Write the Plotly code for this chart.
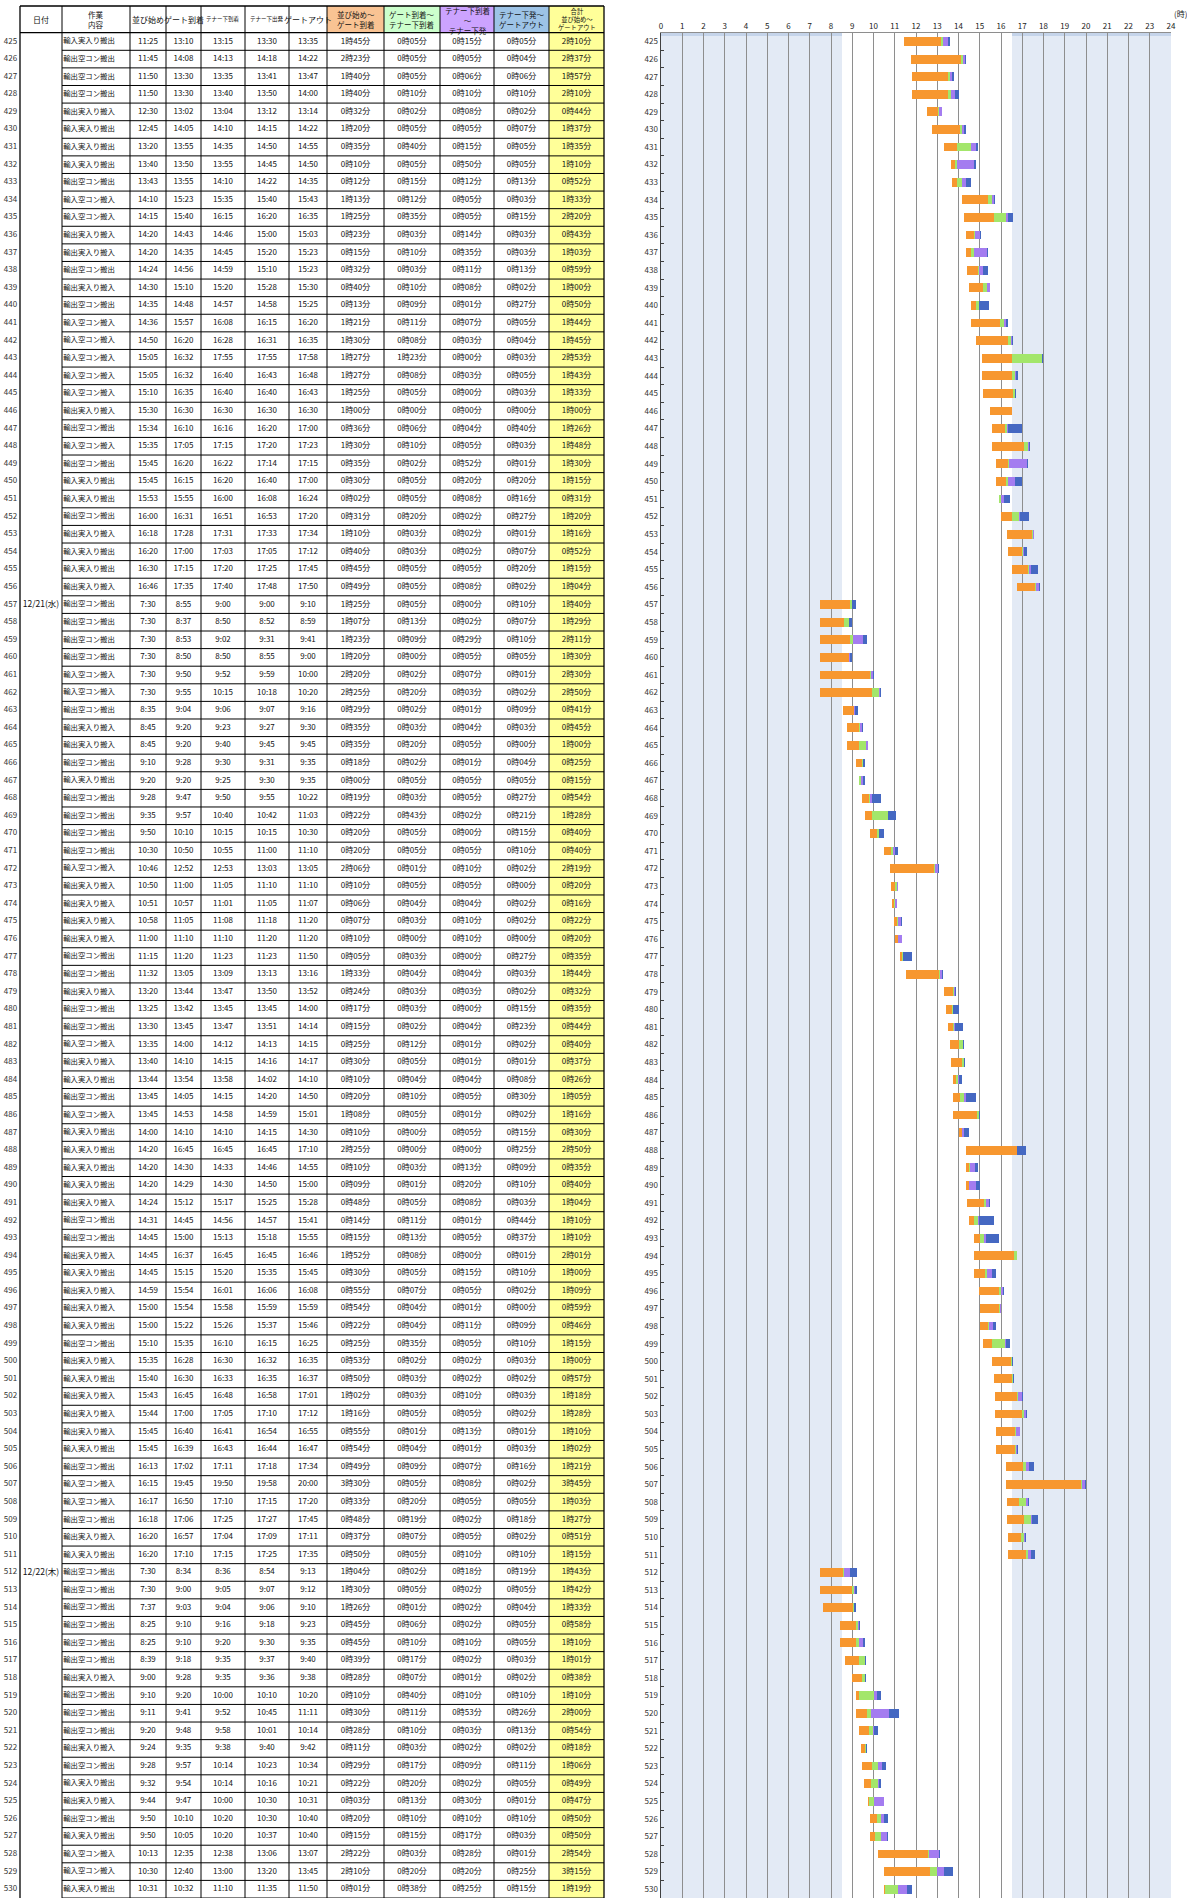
import plotly.graph_objects as go

FONT = "Noto Sans CJK JP"
W, H = 1187, 1898

# ---------------- data ----------------
ids = list(range(425, 531))
date_labels = {457: "12/21(水)", 512: "12/22(木)"}

work = [
    "輸入実入り搬出", "輸出空コン搬出", "輸出空コン搬出", "輸出空コン搬出", "輸出実入り搬入",
    "輸入実入り搬出", "輸入実入り搬出", "輸入実入り搬出", "輸出空コン搬出", "輸入空コン搬入",
    "輸入空コン搬入", "輸出実入り搬入", "輸出実入り搬入", "輸出空コン搬出", "輸出実入り搬入",
    "輸出空コン搬出", "輸入空コン搬入", "輸入空コン搬入", "輸入空コン搬入",
    "輸入空コン搬入", "輸入空コン搬入", "輸出実入り搬入", "輸出空コン搬出", "輸入空コン搬入",
    "輸出空コン搬出", "輸入実入り搬出", "輸入実入り搬出", "輸出空コン搬出", "輸出実入り搬入",
    "輸入実入り搬出", "輸入実入り搬出", "輸出実入り搬入", "輸出空コン搬出", "輸出空コン搬出",
    "輸出空コン搬出", "輸出空コン搬出", "輸入空コン搬入", "輸入空コン搬入", "輸出空コン搬出",
    "輸出実入り搬入", "輸出実入り搬入", "輸出空コン搬出", "輸入実入り搬出", "輸出空コン搬出",
    "輸出空コン搬出", "輸出空コン搬出", "輸出空コン搬出", "輸入空コン搬入",
    "輸出実入り搬入", "輸出実入り搬入", "輸出実入り搬入", "輸出実入り搬入", "輸出空コン搬出",
    "輸出空コン搬出", "輸出実入り搬入", "輸出空コン搬出", "輸出空コン搬出", "輸入空コン搬入",
    "輸出実入り搬入", "輸入実入り搬出", "輸出空コン搬出", "輸入空コン搬入", "輸入実入り搬出",
    "輸入実入り搬出", "輸入実入り搬出", "輸入実入り搬出", "輸出実入り搬入", "輸出空コン搬出",
    "輸出空コン搬出", "輸出実入り搬入", "輸入実入り搬出", "輸出実入り搬入", "輸出実入り搬入",
    "輸入実入り搬出", "輸出空コン搬出", "輸出実入り搬入", "輸入実入り搬出",
    "輸出実入り搬入", "輸出実入り搬入", "輸出実入り搬入", "輸入実入り搬出", "輸出空コン搬出",
    "輸入空コン搬入", "輸入空コン搬入", "輸出空コン搬出", "輸出実入り搬入", "輸入実入り搬出",
    "輸出空コン搬出", "輸出空コン搬出", "輸出空コン搬出", "輸出空コン搬出", "輸出空コン搬出",
    "輸出空コン搬出", "輸出実入り搬入", "輸出空コン搬出", "輸出空コン搬出", "輸出空コン搬出",
    "輸出実入り搬入", "輸出空コン搬出", "輸入実入り搬出", "輸出実入り搬入", "輸出空コン搬出",
    "輸入実入り搬出", "輸入空コン搬入", "輸入空コン搬入", "輸入実入り搬出",
]

t_start = [
    "11:25", "11:45", "11:50", "11:50", "12:30", "12:45", "13:20", "13:40", "13:43", "14:10",
    "14:15", "14:20", "14:20", "14:24", "14:30", "14:35", "14:36", "14:50", "15:05",
    "15:05", "15:10", "15:30", "15:34", "15:35", "15:45", "15:45", "15:53", "16:00", "16:18",
    "16:20", "16:30", "16:46", "7:30", "7:30", "7:30", "7:30", "7:30", "7:30", "8:35",
    "8:45", "8:45", "9:10", "9:20", "9:28", "9:35", "9:50", "10:30", "10:46",
    "10:50", "10:51", "10:58", "11:00", "11:15", "11:32", "13:20", "13:25", "13:30", "13:35",
    "13:40", "13:44", "13:45", "13:45", "14:00", "14:20", "14:20", "14:20", "14:24", "14:31",
    "14:45", "14:45", "14:45", "14:59", "15:00", "15:00", "15:10", "15:35", "15:40",
    "15:43", "15:44", "15:45", "15:45", "16:13", "16:15", "16:17", "16:18", "16:20", "16:20",
    "7:30", "7:30", "7:37", "8:25", "8:25", "8:39", "9:00", "9:10", "9:11", "9:20",
    "9:24", "9:28", "9:32", "9:44", "9:50", "9:50", "10:13", "10:30", "10:31",
]
t_gate = [
    "13:10", "14:08", "13:30", "13:30", "13:02", "14:05", "13:55", "13:50", "13:55", "15:23",
    "15:40", "14:43", "14:35", "14:56", "15:10", "14:48", "15:57", "16:20", "16:32",
    "16:32", "16:35", "16:30", "16:10", "17:05", "16:20", "16:15", "15:55", "16:31", "17:28",
    "17:00", "17:15", "17:35", "8:55", "8:37", "8:53", "8:50", "9:50", "9:55", "9:04",
    "9:20", "9:20", "9:28", "9:20", "9:47", "9:57", "10:10", "10:50", "12:52",
    "11:00", "10:57", "11:05", "11:10", "11:20", "13:05", "13:44", "13:42", "13:45", "14:00",
    "14:10", "13:54", "14:05", "14:53", "14:10", "16:45", "14:30", "14:29", "15:12", "14:45",
    "15:00", "16:37", "15:15", "15:54", "15:54", "15:22", "15:35", "16:28", "16:30",
    "16:45", "17:00", "16:40", "16:39", "17:02", "19:45", "16:50", "17:06", "16:57", "17:10",
    "8:34", "9:00", "9:03", "9:10", "9:10", "9:18", "9:28", "9:20", "9:41", "9:48",
    "9:35", "9:57", "9:54", "9:47", "10:10", "10:05", "12:35", "12:40", "10:32",
]
t_under = [
    "13:15", "14:13", "13:35", "13:40", "13:04", "14:10", "14:35", "13:55", "14:10", "15:35",
    "16:15", "14:46", "14:45", "14:59", "15:20", "14:57", "16:08", "16:28", "17:55",
    "16:40", "16:40", "16:30", "16:16", "17:15", "16:22", "16:20", "16:00", "16:51", "17:31",
    "17:03", "17:20", "17:40", "9:00", "8:50", "9:02", "8:50", "9:52", "10:15", "9:06",
    "9:23", "9:40", "9:30", "9:25", "9:50", "10:40", "10:15", "10:55", "12:53",
    "11:05", "11:01", "11:08", "11:10", "11:23", "13:09", "13:47", "13:45", "13:47", "14:12",
    "14:15", "13:58", "14:15", "14:58", "14:10", "16:45", "14:33", "14:30", "15:17", "14:56",
    "15:13", "16:45", "15:20", "16:01", "15:58", "15:26", "16:10", "16:30", "16:33",
    "16:48", "17:05", "16:41", "16:43", "17:11", "19:50", "17:10", "17:25", "17:04", "17:15",
    "8:36", "9:05", "9:04", "9:16", "9:20", "9:35", "9:35", "10:00", "9:52", "9:58",
    "9:38", "10:14", "10:14", "10:00", "10:20", "10:20", "12:38", "13:00", "11:10",
]
t_depart = [
    "13:30", "14:18", "13:41", "13:50", "13:12", "14:15", "14:50", "14:45", "14:22", "15:40",
    "16:20", "15:00", "15:20", "15:10", "15:28", "14:58", "16:15", "16:31", "17:55",
    "16:43", "16:40", "16:30", "16:20", "17:20", "17:14", "16:40", "16:08", "16:53", "17:33",
    "17:05", "17:25", "17:48", "9:00", "8:52", "9:31", "8:55", "9:59", "10:18", "9:07",
    "9:27", "9:45", "9:31", "9:30", "9:55", "10:42", "10:15", "11:00", "13:03",
    "11:10", "11:05", "11:18", "11:20", "11:23", "13:13", "13:50", "13:45", "13:51", "14:13",
    "14:16", "14:02", "14:20", "14:59", "14:15", "16:45", "14:46", "14:50", "15:25", "14:57",
    "15:18", "16:45", "15:35", "16:06", "15:59", "15:37", "16:15", "16:32", "16:35",
    "16:58", "17:10", "16:54", "16:44", "17:18", "19:58", "17:15", "17:27", "17:09", "17:25",
    "8:54", "9:07", "9:06", "9:18", "9:30", "9:37", "9:36", "10:10", "10:45", "10:01",
    "9:40", "10:23", "10:16", "10:30", "10:30", "10:37", "13:06", "13:20", "11:35",
]
t_out = [
    "13:35", "14:22", "13:47", "14:00", "13:14", "14:22", "14:55", "14:50", "14:35", "15:43",
    "16:35", "15:03", "15:23", "15:23", "15:30", "15:25", "16:20", "16:35", "17:58",
    "16:48", "16:43", "16:30", "17:00", "17:23", "17:15", "17:00", "16:24", "17:20", "17:34",
    "17:12", "17:45", "17:50", "9:10", "8:59", "9:41", "9:00", "10:00", "10:20", "9:16",
    "9:30", "9:45", "9:35", "9:35", "10:22", "11:03", "10:30", "11:10", "13:05",
    "11:10", "11:07", "11:20", "11:20", "11:50", "13:16", "13:52", "14:00", "14:14", "14:15",
    "14:17", "14:10", "14:50", "15:01", "14:30", "17:10", "14:55", "15:00", "15:28", "15:41",
    "15:55", "16:46", "15:45", "16:08", "15:59", "15:46", "16:25", "16:35", "16:37",
    "17:01", "17:12", "16:55", "16:47", "17:34", "20:00", "17:20", "17:45", "17:11", "17:35",
    "9:13", "9:12", "9:10", "9:23", "9:35", "9:40", "9:38", "10:20", "11:11", "10:14",
    "9:42", "10:34", "10:21", "10:31", "10:40", "10:40", "13:07", "13:45", "11:50",
]

hour_ticks = list(range(0, 25))
# background bands of the time axis: (from hour, to hour, colour)
band_from = [0, 8.5, 16.5]
band_to = [8.5, 16.5, 24]
band_colors = ["#E3EAF5", "#FFFFFF", "#E3EAF5"]

# ---------------- helpers ----------------
def tmin(s):
    h, m = s.split(":")
    return int(h) * 60 + int(m)

def fmt(d):
    return f"{d // 60}時{d % 60:02d}分"

n = len(ids)
m_start = [tmin(s) for s in t_start]
m_gate = [tmin(s) for s in t_gate]
m_under = [tmin(s) for s in t_under]
m_dep = [tmin(s) for s in t_depart]
m_out = [tmin(s) for s in t_out]
d1 = [b - a for a, b in zip(m_start, m_gate)]
d2 = [b - a for a, b in zip(m_gate, m_under)]
d3 = [b - a for a, b in zip(m_under, m_dep)]
d4 = [b - a for a, b in zip(m_dep, m_out)]
dt = [b - a for a, b in zip(m_start, m_out)]

# ---------------- layout geometry (px) ----------------
col_edges = [20, 62, 130, 166, 201, 245, 289, 327, 384, 440, 494, 549, 604]
head_top, head_bot = 6.0, 32.7
row_h = (H - head_bot) / n
row_cy = [head_bot + (i + 0.5) * row_h for i in range(n)]
chart_x0, chart_x1 = 661, 1171
chart_ytop = 1 - head_bot / H
cx_dom = [chart_x0 / W, chart_x1 / W]
cy_dom = [0, chart_ytop]

def ccx(k):
    return (col_edges[k] + col_edges[k + 1]) / 2

fig = go.Figure()

# ---------------- chart background bands (bottom subplot x/y) ----------------
strip = 3.6 / (H - head_bot)
fig.add_trace(go.Bar(
    x=[b - a for a, b in zip(band_from, band_to)], base=band_from, y=[0.5] * 3,
    width=1, orientation="h", marker=dict(color=band_colors, line=dict(width=0)),
    xaxis="x", yaxis="y", showlegend=False, hoverinfo="skip"))
fig.add_trace(go.Bar(
    x=[b - a for a, b in zip(band_from, band_to)], base=band_from, y=[1 - strip / 2] * 3,
    width=strip, orientation="h",
    marker=dict(color=["#C5D4EA", "#FFFFFF", "#C5D4EA"], line=dict(width=0)),
    xaxis="x", yaxis="y", showlegend=False, hoverinfo="skip"))

# ---------------- Gantt bars (top subplot x3/y3) ----------------
ylab = [str(i) for i in ids]
seg_colors = ["#F7972F", "#A3E66B", "#A47CF0", "#4568C2"]
segments = [(m_start, d1), (m_gate, d2), (m_under, d3), (m_dep, d4)]
for (base, dur), col in zip(segments, seg_colors):
    fig.add_trace(go.Bar(
        y=ylab, x=[d / 60 for d in dur], base=[b / 60 for b in base],
        orientation="h", marker=dict(color=col, line=dict(width=0)),
        width=0.5, xaxis="x3", yaxis="y3", showlegend=False, hoverinfo="skip"))

# ---------------- table text (x2/y2 in pixel units) ----------------
def text_trace(xs, ys, texts, size=8, color="#111"):
    fig.add_trace(go.Scatter(
        x=xs, y=ys, mode="text", text=texts, textposition="middle center",
        textfont=dict(family=FONT, size=size, color=color),
        xaxis="x2", yaxis="y2", showlegend=False, hoverinfo="skip"))

text_trace([10.5] * n, row_cy, [str(i) for i in ids], size=8, color="#333")
dy = [row_cy[ids.index(k)] for k in date_labels]
text_trace([41] * len(dy), dy, list(date_labels.values()), size=8.5)
text_trace([col_edges[1] + 27] * n, row_cy, work, size=7.4)
for k, col in enumerate([t_start, t_gate, t_under, t_depart, t_out]):
    text_trace([ccx(2 + k)] * n, row_cy, col, size=8)
for k, col in enumerate([d1, d2, d3, d4, dt]):
    text_trace([ccx(7 + k)] * n, row_cy, [fmt(d) for d in col], size=8)

# ---------------- table shapes ----------------
shapes = []
head_fills = {7: "#F9C393", 8: "#CCFFCC", 9: "#CCA3FF", 10: "#9DC3E6", 11: "#FFFF99"}
for k, c in head_fills.items():
    shapes.append(dict(type="rect", xref="x2", yref="y2", x0=col_edges[k], x1=col_edges[k + 1],
                       y0=head_top, y1=head_bot, fillcolor=c, line=dict(width=0), layer="below"))
shapes.append(dict(type="rect", xref="x2", yref="y2", x0=col_edges[11], x1=col_edges[12],
                   y0=head_bot, y1=H, fillcolor="#FFFF99", line=dict(width=0), layer="below"))
for k, x in enumerate(col_edges):
    shapes.append(dict(type="line", xref="x2", yref="y2", x0=x, x1=x, y0=head_top, y1=H,
                       line=dict(color="#000", width=1.3 if k in (0, 12) else 1)))
shapes.append(dict(type="line", xref="x2", yref="y2", x0=col_edges[0], x1=col_edges[-1],
                   y0=head_top, y1=head_top, line=dict(color="#000", width=1.3)))
shapes.append(dict(type="line", xref="x2", yref="y2", x0=col_edges[0], x1=col_edges[-1],
                   y0=head_bot, y1=head_bot, line=dict(color="#000", width=1.2)))
for i in range(1, n + 1):
    y = head_bot + i * row_h
    shapes.append(dict(type="line", xref="x2", yref="y2", x0=col_edges[1], x1=col_edges[-1],
                       y0=y, y1=y, line=dict(color="#000", width=1)))

# ---------------- header annotations ----------------
hy = (head_top + head_bot) / 2
headers = [
    (0, "日付", 8), (1, "作業<br>内容", 7.5), (2, "並び始め", 8), (3, "ゲート到着", 8),
    (4, "テナー下到着", 5.5), (5, "テナー下出発", 5.5), (6, "ゲートアウト", 8),
    (7, "並び始め～<br>ゲート到着", 7.5), (8, "ゲート到着～<br>テナー下到着", 7.5),
    (10, "テナー下発～<br>ゲートアウト", 7.5),
]
annotations = []
for k, t, s in headers:
    annotations.append(dict(xref="x2", yref="y2", x=ccx(k), y=hy, text=t, showarrow=False,
                            font=dict(family=FONT, size=s, color="#111"),
                            xanchor="center", yanchor="middle"))
annotations.append(dict(xref="x2", yref="y2", x=ccx(9), y=hy + 1.5,
                        text="テナー下到着<br>～<br>テナー下発", showarrow=False,
                        font=dict(family=FONT, size=7.5, color="#111"),
                        xanchor="center", yanchor="middle"))
annotations.append(dict(xref="x2", yref="y2", x=ccx(11), y=hy,
                        text="合計<br>並び始め～<br>ゲートアウト", showarrow=False,
                        font=dict(family=FONT, size=6.3, color="#111"),
                        xanchor="center", yanchor="middle"))
annotations.append(dict(xref="x2", yref="y2", x=1180, y=13, text="(時)", showarrow=False,
                        font=dict(family=FONT, size=8, color="#222"),
                        xanchor="center", yanchor="middle"))

fig.update_layout(
    template="none",
    width=W, height=H, margin=dict(l=0, r=0, t=0, b=0, pad=0),
    paper_bgcolor="white", plot_bgcolor="rgba(0,0,0,0)",
    barmode="overlay", bargap=0,
    shapes=shapes, annotations=annotations,
    font=dict(family=FONT, size=8, color="#222"),
    # bottom subplot: shaded bands
    xaxis=dict(domain=cx_dom, range=[0, 24], visible=False, anchor="y", fixedrange=True),
    yaxis=dict(domain=cy_dom, range=[0, 1], visible=False, anchor="x", fixedrange=True),
    # table subplot (pixel coords)
    xaxis2=dict(domain=[0, 1], range=[0, W], visible=False, anchor="y2", fixedrange=True),
    yaxis2=dict(domain=[0, 1], range=[H, 0], visible=False, anchor="x2", fixedrange=True),
    # top subplot: gantt bars + axes
    xaxis3=dict(domain=cx_dom, range=[0, 24], side="top",
                tickvals=hour_ticks, ticktext=[str(h) for h in hour_ticks],
                showgrid=True, gridcolor="#8E8E8E", gridwidth=1,
                showline=True, linecolor="#8E8E8E", linewidth=1, ticks="",
                tickfont=dict(family=FONT, size=8, color="#222"),
                zeroline=False, anchor="y3", fixedrange=True),
    yaxis3=dict(domain=cy_dom, type="category", categoryorder="array",
                categoryarray=ylab, range=[n - 0.5, -0.5],
                showgrid=False, showline=True, linecolor="#404040", linewidth=1.5,
                ticks="inside", tickson="boundaries", ticklen=3, tickcolor="#404040",
                tickfont=dict(family=FONT, size=8, color="#333"),
                zeroline=False, anchor="x3", fixedrange=True),
)

fig.write_html("out.html",
               config={"displayModeBar": False, "staticPlot": True},
               post_script="document.body.style.margin='0';document.body.style.overflow='hidden';")
